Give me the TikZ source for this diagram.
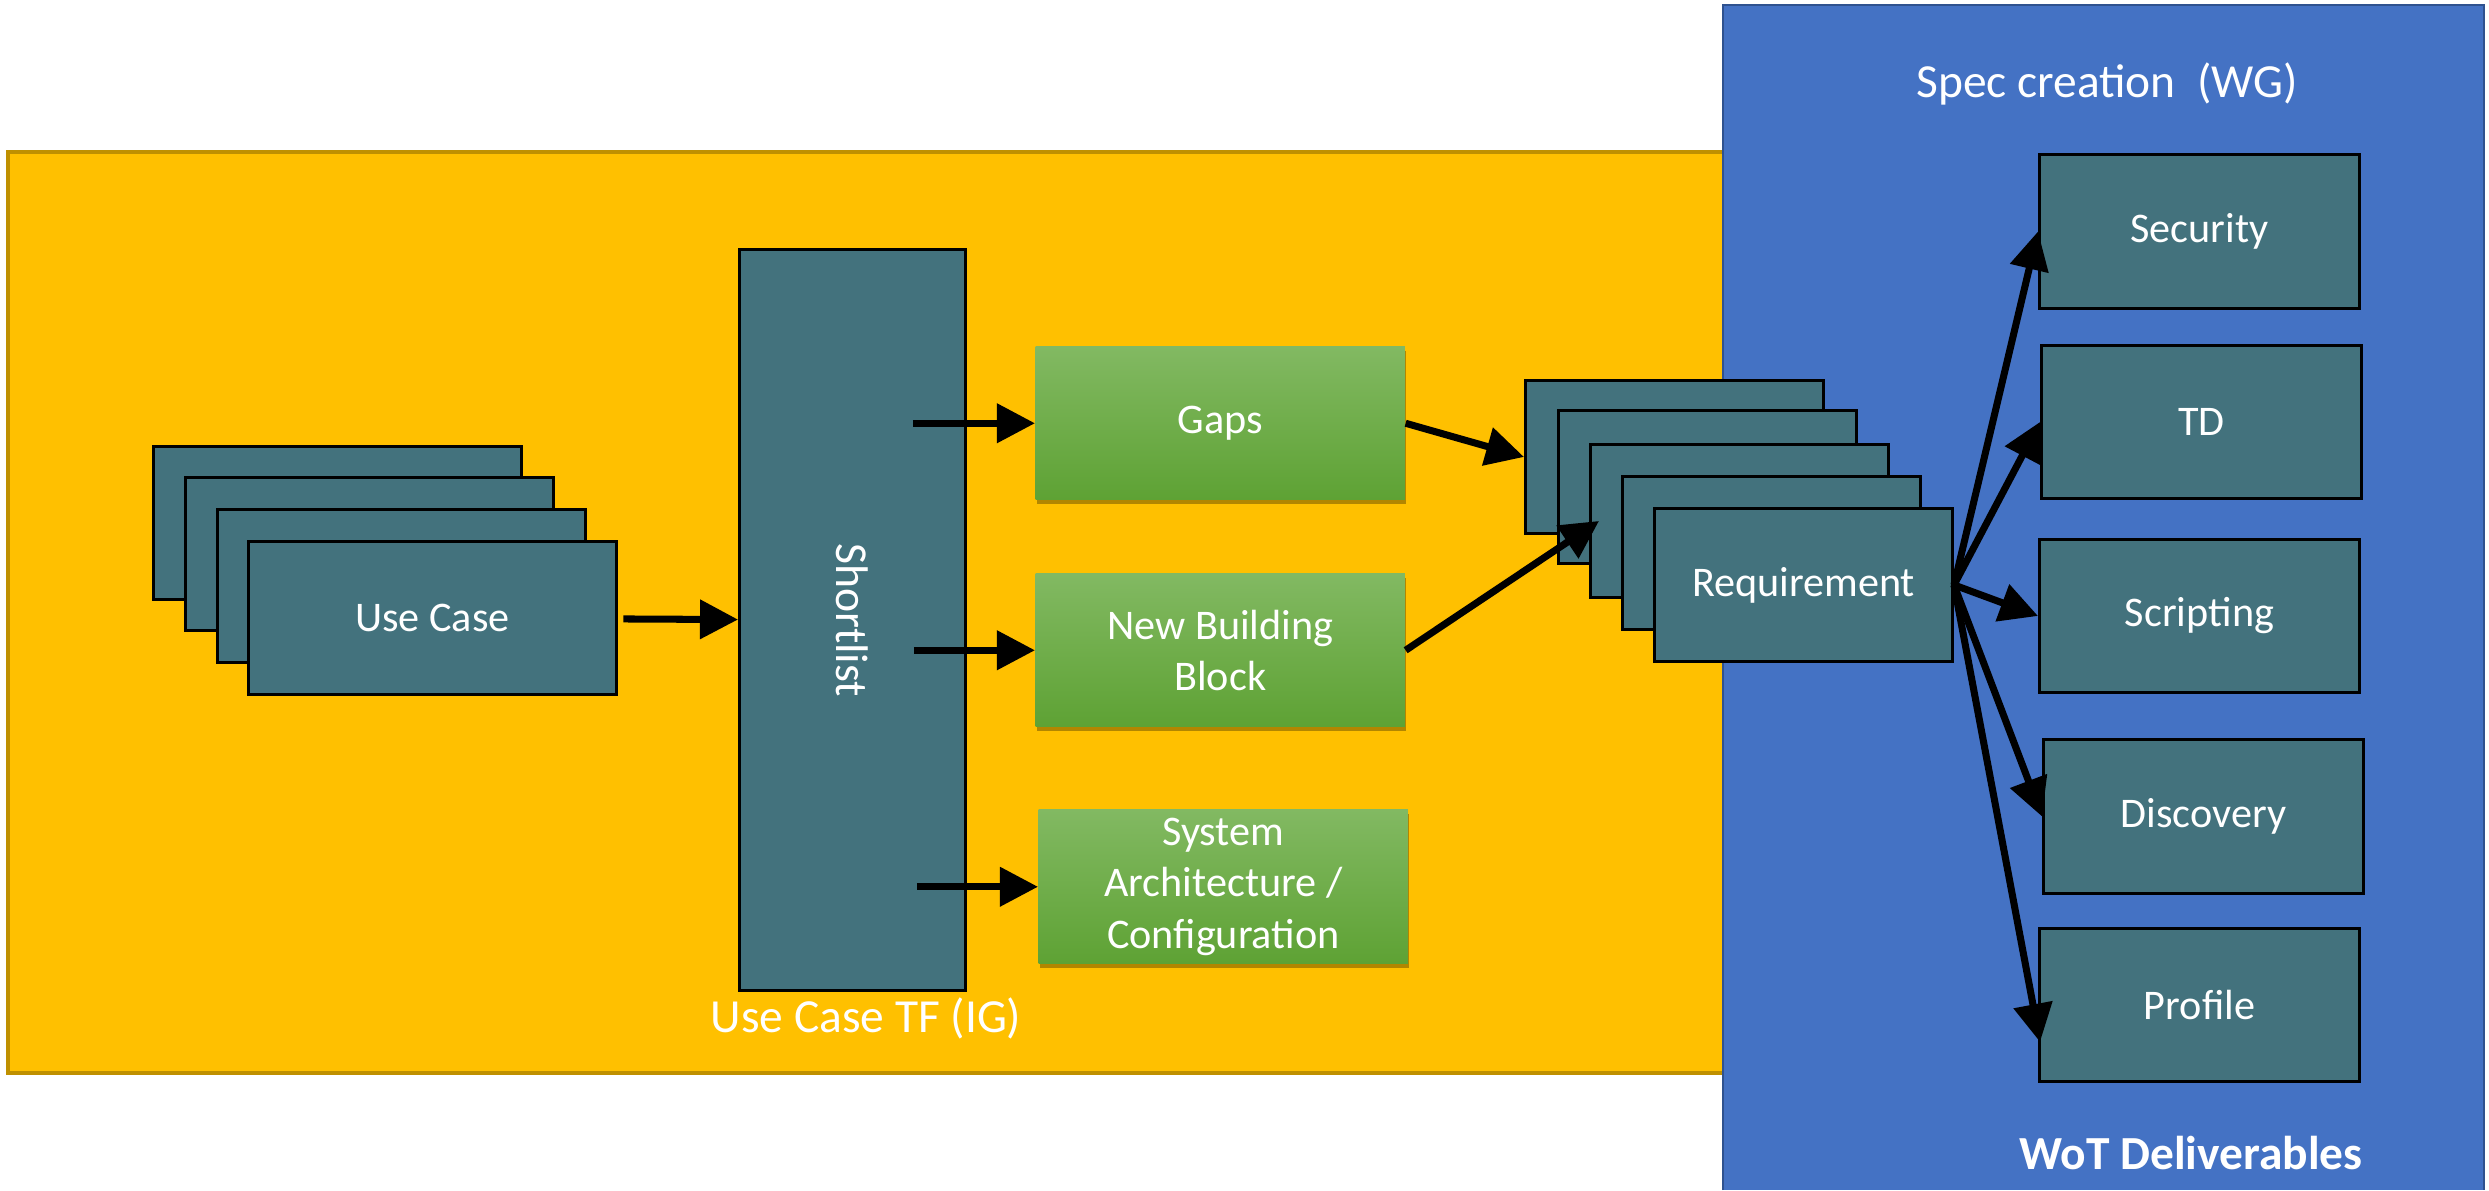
\documentclass[tikz,border=0pt]{standalone}
\usepackage{fontspec}
\setmainfont{Carlito}
\usetikzlibrary{arrows.meta,shadows,calc}
\definecolor{goldbg}{RGB}{255,192,0}
\definecolor{goldedge}{RGB}{191,144,0}
\definecolor{bluebg}{RGB}{68,114,196}
\definecolor{blueedge}{RGB}{47,82,143}
\definecolor{tealbox}{RGB}{67,114,125}
\definecolor{gtop}{RGB}{130,185,98}
\definecolor{gbot}{RGB}{94,162,52}
\begin{document}
\begin{tikzpicture}[x=0.01cm,y=-0.01cm,
  boxtext/.style={text=white, font=\fontsize{12}{14.6}\selectfont, align=center},
  tealcard/.style={boxtext, draw=black, line width=0.8pt, fill=tealbox, anchor=north west, inner sep=0pt},
  uccard/.style={tealcard, minimum width=3.68cm, minimum height=1.53cm},
  rqcard/.style={tealcard, minimum width=2.98cm, minimum height=1.53cm},
  wgcard/.style={tealcard, minimum width=3.20cm, minimum height=1.53cm},
  greenbox/.style={boxtext, anchor=north west, inner sep=0pt, top color=gtop, bottom color=gbot,
    minimum width=3.69cm, minimum height=1.53cm,
    drop shadow={shadow xshift=0.015cm, shadow yshift=-0.045cm, opacity=0.3, fill=black}},
  arr/.style={line width=2pt, -{Triangle[length=0.38cm,width=0.38cm]}},
  bigtext/.style={text=white, font=\fontsize{13.5}{16}\selectfont, inner sep=0pt}
]
\useasboundingbox (0,0) rectangle (2489,1190);
% background regions
\fill[white] (0,0) rectangle (2489,1190);
\fill[goldbg] (8,152) rectangle (1723,1073);
\draw[goldedge, line width=1pt] (1723,152) -- (8,152) -- (8,1073) -- (1723,1073);
\fill[bluebg] (1723,5) rectangle (2484,1190);
\draw[blueedge, line width=0.8pt] (1723,1190) -- (1723,5) -- (2484,5) -- (2484,1190);
% labels
\node[bigtext, anchor=base] (wglabel) at (2107,97) {Spec creation~~(WG)};
\node[bigtext, anchor=base] (iglabel) at (866,1032) {Use Case TF (IG)};
\node[bigtext, anchor=base, font=\fontsize{13.5}{16}\selectfont\bfseries] (wotlabel) at (2191,1169) {WoT Deliverables};
% use case stack
\node[uccard] (uc1) at (152,445) {};
\node[uccard] (uc2) at (184,476) {};
\node[uccard] (uc3) at (216,508) {};
\node[uccard] (uc4) at (247,540) {Use Case};
% shortlist
\node[tealcard, minimum width=2.26cm, minimum height=7.41cm] (short) at (738,248) {};
\node[boxtext, rotate=-90, font=\fontsize{13}{15}\selectfont] (shorttext) at (short.center) {Shortlist};
% green boxes
\node[greenbox] (gaps) at (1035,346) {Gaps};
\node[greenbox] (nbb) at (1035,573) {New Building\\Block};
\node[greenbox, minimum height=1.54cm] (sys) at (1038,809) {System\\Architecture /\\Configuration};
% requirement stack
\node[rqcard] (r1) at (1524,379) {};
\node[rqcard] (r2) at (1557,409) {};
\node[rqcard] (r3) at (1589,443) {};
\node[rqcard] (r4) at (1621,475) {};
\node[rqcard] (r5) at (1653,507) {Requirement};
% WG deliverables
\node[wgcard, minimum height=1.54cm] (sec) at (2038,153) {Security};
\node[wgcard] (td) at (2040,344) {TD};
\node[wgcard] (scr) at (2038,538) {Scripting};
\node[wgcard, minimum height=1.54cm] (disc) at (2042,738) {Discovery};
\node[wgcard] (prof) at (2038,927) {Profile};
\coordinate (profin) at ($(prof.west)+(2,37)$);
\coordinate (r3in) at ($(r3.west)+(10,0)$);
% connectors
\draw[arr, shorten <=1.5pt] (uc4) -- (short);
\draw[arr] ([xshift=-1.22cm]gaps.west) -- (gaps.west);
\draw[arr] ([xshift=-1.21cm]nbb.west) -- (nbb.west);
\draw[arr] ([xshift=-1.21cm]sys.west) -- (sys.west);
\draw[arr] (gaps.east) -- (r1.west);
\draw[arr] (nbb.east) -- (r3in);
\draw[arr] (r5.east) -- (sec.west);
\draw[arr] (r5.east) -- (td.west);
\draw[arr] (r5.east) -- (scr.west);
\draw[arr] (r5.east) -- (disc.west);
\draw[arr] (r5.east) -- (profin);
\end{tikzpicture}
\end{document}
